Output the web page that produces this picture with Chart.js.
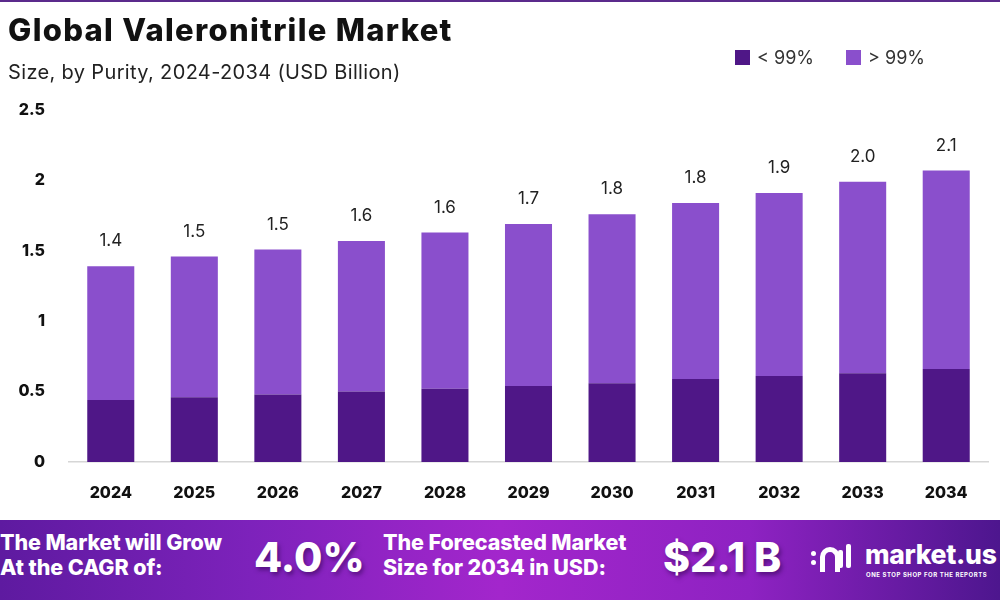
<!DOCTYPE html>
<html>
<head>
<meta charset="utf-8">
<script src="https://cdn.jsdelivr.net/npm/chart.js@4/dist/chart.umd.min.js"></script>
<style>
  html, body { margin:0; padding:0; background:#fff; }
  #wrap { position:relative; width:1000px; height:600px; overflow:hidden; font-family:"Inter","Open Sans",sans-serif; }
  #topline { position:absolute; left:0; top:0; width:1000px; height:2px; background:#5b2a8c; }
  #title { position:absolute; left:8px; top:11px; font-size:31px; font-weight:800; color:#111; letter-spacing:1.3px; }
  #subtitle { position:absolute; left:8px; top:60px; font-size:20px; font-weight:400; color:#222; letter-spacing:0.35px; }
  .leg { position:absolute; top:47px; font-size:18px; color:#333; display:flex; align-items:center; }
  .leg span.sw { display:inline-block; width:15px; height:15px; margin-right:7px; }
  canvas { position:absolute; left:0; top:0; }
  #banner { position:absolute; left:0; top:520px; width:1000px; height:80px;
    background:linear-gradient(90deg,#5e1aa0 0%,#7d22bb 25%,#a326cc 50%,#8e22c2 75%,#4d168e 100%); color:#fff; }
  .btxt { position:absolute; font-weight:800; font-size:21.5px; line-height:25px; letter-spacing:-0.1px; }
  .bbig { position:absolute; font-weight:800; font-size:41px; text-shadow:2px 3px 4px rgba(40,0,70,0.5); }
  #logo { position:absolute; left:865px; top:18px; font-size:26.5px; font-weight:800; letter-spacing:-0.3px; }
  #tag { position:absolute; left:866px; top:51px; font-size:6px; font-weight:700; letter-spacing:0.55px; }
  .dot { position:absolute; width:5px; height:5px; border-radius:50%; background:#fff; }
  .arch { position:absolute; left:820px; top:27px; width:10px; height:20px; border:5px solid #fff; border-bottom:none; border-radius:10px 10px 0 0; }
  .bar { position:absolute; width:5px; background:#fff; border-radius:2px; }
</style>
</head>
<body>
<div id="wrap">
  <canvas id="c" width="1000" height="600"></canvas>
  <div id="topline"></div>
  <div id="title">Global Valeronitrile Market</div>
  <div id="subtitle">Size, by Purity, 2024-2034 (USD Billion)</div>
  <div class="leg" style="left:735px;"><span class="sw" style="background:#4f1787"></span>&lt; 99%</div>
  <div class="leg" style="left:846px;"><span class="sw" style="background:#8a4fcc"></span>&gt; 99%</div>
  <div id="banner">
    <div class="btxt" style="left:0px; top:10px;">The Market will Grow<br>At the CAGR of:</div>
    <div class="bbig" style="left:254px; top:12px;">4.0%</div>
    <div class="btxt" style="left:383px; top:10px;">The Forecasted Market<br>Size for 2034 in USD:</div>
    <div class="bbig" style="left:663px; top:12px;">$2.1 B</div>
    <div class="dot" style="left:811px; top:31px;"></div>
    <div class="dot" style="left:811px; top:40px;"></div>
    <div class="arch"></div>
    <div class="bar" style="left:838px; top:30px; height:18px;"></div>
    <div class="bar" style="left:846px; top:24px; height:24px;"></div>
    <div id="logo">market.us</div>
    <div id="tag">ONE STOP SHOP FOR THE REPORTS</div>
  </div>
</div>
<script>
const categories = ["2024","2025","2026","2027","2028","2029","2030","2031","2032","2033","2034"];
const below99 = [0.44,0.46,0.48,0.50,0.52,0.54,0.56,0.59,0.61,0.63,0.66];
const above99 = [0.95,1.00,1.03,1.07,1.11,1.15,1.20,1.25,1.30,1.36,1.41];
const seriesNames = ["< 99%","> 99%"];
const yTicks = [0,0.5,1,1.5,2,2.5];

const totalsPlugin = {
  id:'totals',
  afterDatasetsDraw(chart){
    const ctx = chart.ctx;
    const meta = chart.getDatasetMeta(1);
    ctx.save();
    ctx.font = '400 17px Inter, "Open Sans", sans-serif';
    ctx.fillStyle = '#222';
    ctx.textAlign = 'center';
    ctx.textBaseline = 'middle';
    meta.data.forEach((bar,i)=>{
      const total = below99[i] + above99[i];
      ctx.fillText(total.toFixed(1), bar.x, bar.y - 25);
    });
    ctx.restore();
  }
};

new Chart(document.getElementById('c'), {
  type:'bar',
  data:{
    labels:categories,
    datasets:[
      {label:seriesNames[0], data:below99, backgroundColor:'#4f1787', categoryPercentage:1, barPercentage:0.563},
      {label:seriesNames[1], data:above99, backgroundColor:'#8a4fcc', categoryPercentage:1, barPercentage:0.563}
    ]
  },
  options:{
    responsive:false,
    animation:false,
    layout:{padding:{top:110,bottom:88,left:0,right:12}},
    plugins:{legend:{display:false}, tooltip:{enabled:false}},
    scales:{
      x:{
        stacked:true,
        grid:{display:false, drawTicks:false},
        border:{display:true, color:'#d6d6d6', width:1.5},
        ticks:{padding:22, color:'#111', font:{family:'Inter, "Open Sans", sans-serif', size:16, weight:'800'}},
        afterFit(s){ s.height = 50; }
      },
      y:{
        stacked:true,
        min:0, max:2.5,
        afterBuildTicks(s){ s.ticks = yTicks.map(v=>({value:v})); },
        grid:{display:false, drawTicks:false},
        border:{display:false},
        ticks:{padding:24, color:'#111', font:{family:'Inter, "Open Sans", sans-serif', size:16, weight:'800'},
          callback:(v)=>String(v)},
        afterFit(s){ s.width = 69; }
      }
    }
  },
  plugins:[totalsPlugin]
});
</script>
</body>
</html>
